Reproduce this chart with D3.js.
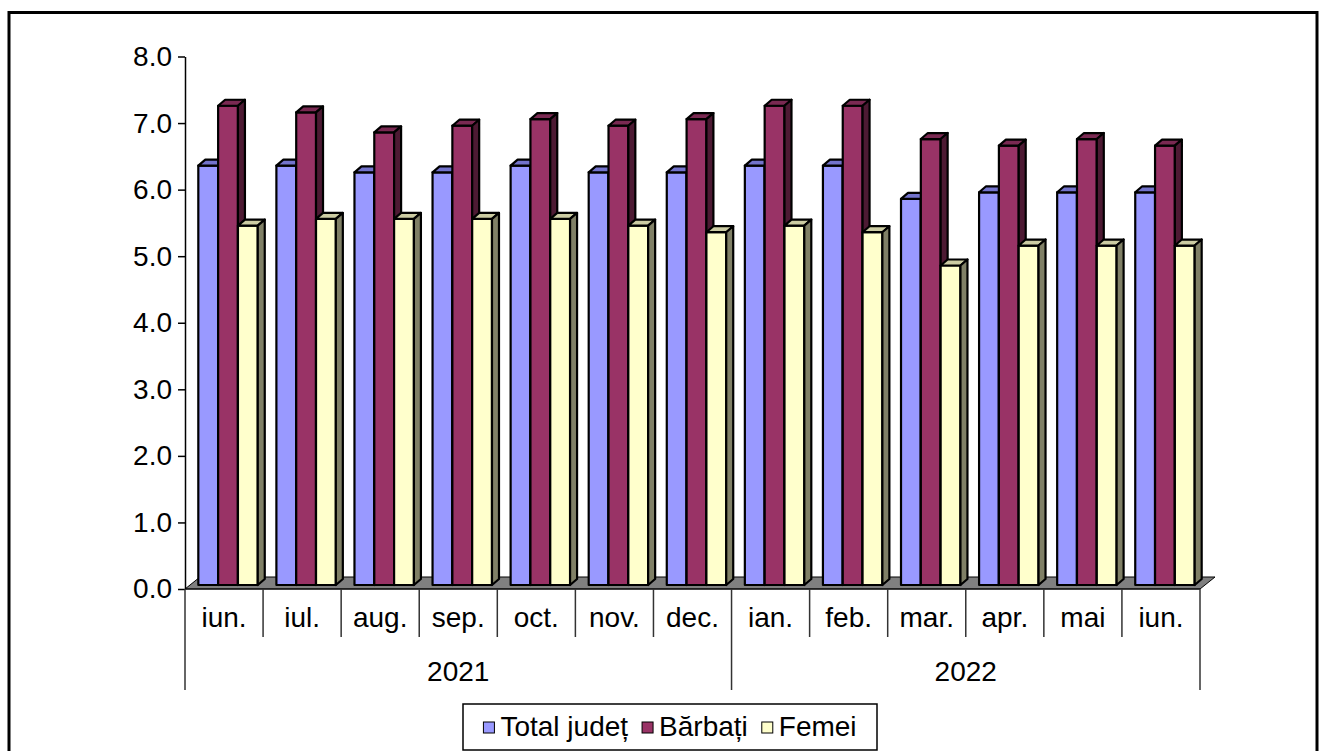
<!DOCTYPE html>
<html>
<head>
<meta charset="utf-8">
<script src="https://cdn.jsdelivr.net/npm/d3@7"></script>
<style>
    body { margin: 0; background: #fff; }
    svg text { font-family: "Liberation Sans", Arial, sans-serif; fill: #000; }
</style>
</head>
<body>
<div id="chart"></div>
<script>
// data
var months = ["iun.", "iul.", "aug.", "sep.", "oct.", "nov.", "dec.", "ian.", "feb.", "mar.", "apr.", "mai", "iun."];
var years = ["2021", "2022"];
var yearSpans = [7, 6];
var seriesNames = ["Total județ", "Bărbați", "Femei"];
var totalJudet = [6.3, 6.3, 6.2, 6.2, 6.3, 6.2, 6.2, 6.3, 6.3, 5.8, 5.9, 5.9, 5.9];
var barbati = [7.2, 7.1, 6.8, 6.9, 7.0, 6.9, 7.0, 7.2, 7.2, 6.7, 6.6, 6.7, 6.6];
var femei = [5.4, 5.5, 5.5, 5.5, 5.5, 5.4, 5.3, 5.4, 5.3, 4.8, 5.1, 5.1, 5.1];
var yTicks = [0, 1, 2, 3, 4, 5, 6, 7, 8];

var seriesValues = [totalJudet, barbati, femei];
var colors = [
    {front: "#9999FF", top: "#7373CC", side: "#4D4D80"},
    {front: "#993366", top: "#7A2952", side: "#4D1A33"},
    {front: "#FFFFCC", top: "#CCCCA3", side: "#808066"}
];

var width = 1319,
    height = 751,
    plot = {left: 185, right: 1200, top: 56.5, bottom: 589},
    floorDepth = {dx: 15, dy: -12},
    barShift = {dx: 4, dy: -4},
    barDepth = {dx: 7, dy: -6},
    fontSize = 28;

var svg = d3.select("#chart")
    .append("svg")
    .attr("width", width)
    .attr("height", height);

// outer frame
svg.append("rect")
    .attr("x", 9)
    .attr("y", 12.5)
    .attr("width", 1308)
    .attr("height", 760)
    .attr("fill", "none")
    .attr("stroke", "#000")
    .attr("stroke-width", 3);

var xScale0 = d3.scaleBand().domain(d3.range(months.length)).range([plot.left, plot.right]);
var xScale1 = d3.scaleBand().domain(d3.range(seriesNames.length)).range([0, xScale0.bandwidth()]).paddingOuter(0.47);
var yScale = d3.scaleLinear().domain([0, 8]).range([plot.bottom, plot.top]);

// floor
var y0 = yScale(0);
svg.append("polygon")
    .attr("points", [
        [plot.left, y0],
        [plot.right, y0],
        [plot.right + floorDepth.dx, y0 + floorDepth.dy],
        [plot.left + floorDepth.dx, y0 + floorDepth.dy]
    ].map(p => p.join(",")).join(" "))
    .attr("fill", "#808080")
    .attr("stroke", "#000")
    .attr("stroke-width", 1);

// bars
var cats = svg.selectAll(".cat")
    .data(months.map((m, i) => i))
    .enter().append("g")
    .attr("class", "cat")
    .attr("transform", i => `translate(${xScale0(i) + barShift.dx},${barShift.dy})`);

cats.each(function(i) {
    var g = d3.select(this);
    seriesValues.forEach((vals, s) => {
        var x = xScale1(s),
            w = xScale1.bandwidth(),
            yt = yScale(vals[i]),
            yb = yScale(0),
            c = colors[s],
            dx = barDepth.dx,
            dy = barDepth.dy;
        var bar = g.append("g").attr("class", "bar");
        bar.append("rect")
            .attr("x", x).attr("y", yt)
            .attr("width", w).attr("height", yb - yt)
            .attr("fill", c.front);
        bar.append("polygon")
            .attr("points", `${x},${yt} ${x + dx},${yt + dy} ${x + w + dx},${yt + dy} ${x + w},${yt}`)
            .attr("fill", c.top);
        bar.append("polygon")
            .attr("points", `${x + w},${yt} ${x + w + dx},${yt + dy} ${x + w + dx},${yb + dy} ${x + w},${yb}`)
            .attr("fill", c.side);
        bar.selectAll("rect, polygon")
            .attr("stroke", "#000")
            .attr("stroke-width", 2.2)
            .attr("stroke-linejoin", "round");
    });
});

// Y axis
var yAxis = d3.axisLeft(yScale)
    .tickValues(yTicks)
    .tickFormat(d3.format(".1f"))
    .tickSize(7)
    .tickSizeOuter(0)
    .tickPadding(6);

var yAxisG = svg.append("g")
    .attr("class", "y axis")
    .attr("transform", `translate(${plot.left},0)`)
    .call(yAxis);
yAxisG.selectAll("text").style("font-size", fontSize + "px").style("font-family", "Liberation Sans, Arial, sans-serif");
yAxisG.select(".domain").attr("stroke", "#000").attr("stroke-width", 1.5);
yAxisG.selectAll(".tick line").attr("stroke", "#000").attr("stroke-width", 1.5);

// X axis: two level category table
var tableG = svg.append("g").attr("class", "x axis");
var monthBottom = 637,
    yearBottom = 690;

tableG.append("line")
    .attr("x1", plot.left).attr("x2", plot.right)
    .attr("y1", y0).attr("y2", y0)
    .attr("stroke", "#000").attr("stroke-width", 1);

var yearEdges = [0];
yearSpans.forEach(n => yearEdges.push(yearEdges[yearEdges.length - 1] + n));

d3.range(months.length + 1).forEach(i => {
    var x = i < months.length ? xScale0(i) : plot.right;
    tableG.append("line")
        .attr("x1", x).attr("x2", x)
        .attr("y1", y0)
        .attr("y2", yearEdges.indexOf(i) >= 0 ? yearBottom : monthBottom)
        .attr("stroke", "#333")
        .attr("stroke-width", 1.5);
});

tableG.selectAll(".month")
    .data(months)
    .enter().append("text")
    .attr("class", "month")
    .attr("x", (d, i) => xScale0(i) + xScale0.bandwidth() / 2)
    .attr("y", 627)
    .attr("text-anchor", "middle")
    .style("font-size", fontSize + "px")
    .text(d => d);

tableG.selectAll(".year")
    .data(years)
    .enter().append("text")
    .attr("class", "year")
    .attr("x", (d, i) => {
        var a = xScale0(yearEdges[i]);
        var b = yearEdges[i + 1] < months.length ? xScale0(yearEdges[i + 1]) : plot.right;
        return (a + b) / 2;
    })
    .attr("y", 681)
    .attr("text-anchor", "middle")
    .style("font-size", fontSize + "px")
    .text(d => d);

// legend
var legendBox = {x: 463, y: 704, w: 414, h: 46};
var legend = svg.append("g").attr("class", "legend");
legend.append("rect")
    .attr("x", legendBox.x).attr("y", legendBox.y)
    .attr("width", legendBox.w).attr("height", legendBox.h)
    .attr("fill", "#fff")
    .attr("stroke", "#000")
    .attr("stroke-width", 1.5);

var items = legend.selectAll(".item")
    .data(seriesNames)
    .enter().append("g")
    .attr("class", "item");
items.append("rect")
    .attr("width", 11).attr("height", 11)
    .attr("y", 722)
    .attr("fill", (d, i) => colors[i].front)
    .attr("stroke", "#000")
    .attr("stroke-width", 1);
items.append("text")
    .attr("y", 736)
    .style("font-size", fontSize + "px")
    .text(d => d);

var squareGap = 6, itemGap = 14, sq = 11;
var widths = [];
items.select("text").each(function() { widths.push(this.getComputedTextLength()); });
var total = d3.sum(widths) + seriesNames.length * (sq + squareGap) + (seriesNames.length - 1) * itemGap;
var cx = legendBox.x + (legendBox.w - total) / 2;
items.each(function(d, i) {
    var it = d3.select(this);
    it.select("rect").attr("x", cx);
    it.select("text").attr("x", cx + sq + squareGap);
    cx += sq + squareGap + widths[i] + itemGap;
});
</script>
</body>
</html>
